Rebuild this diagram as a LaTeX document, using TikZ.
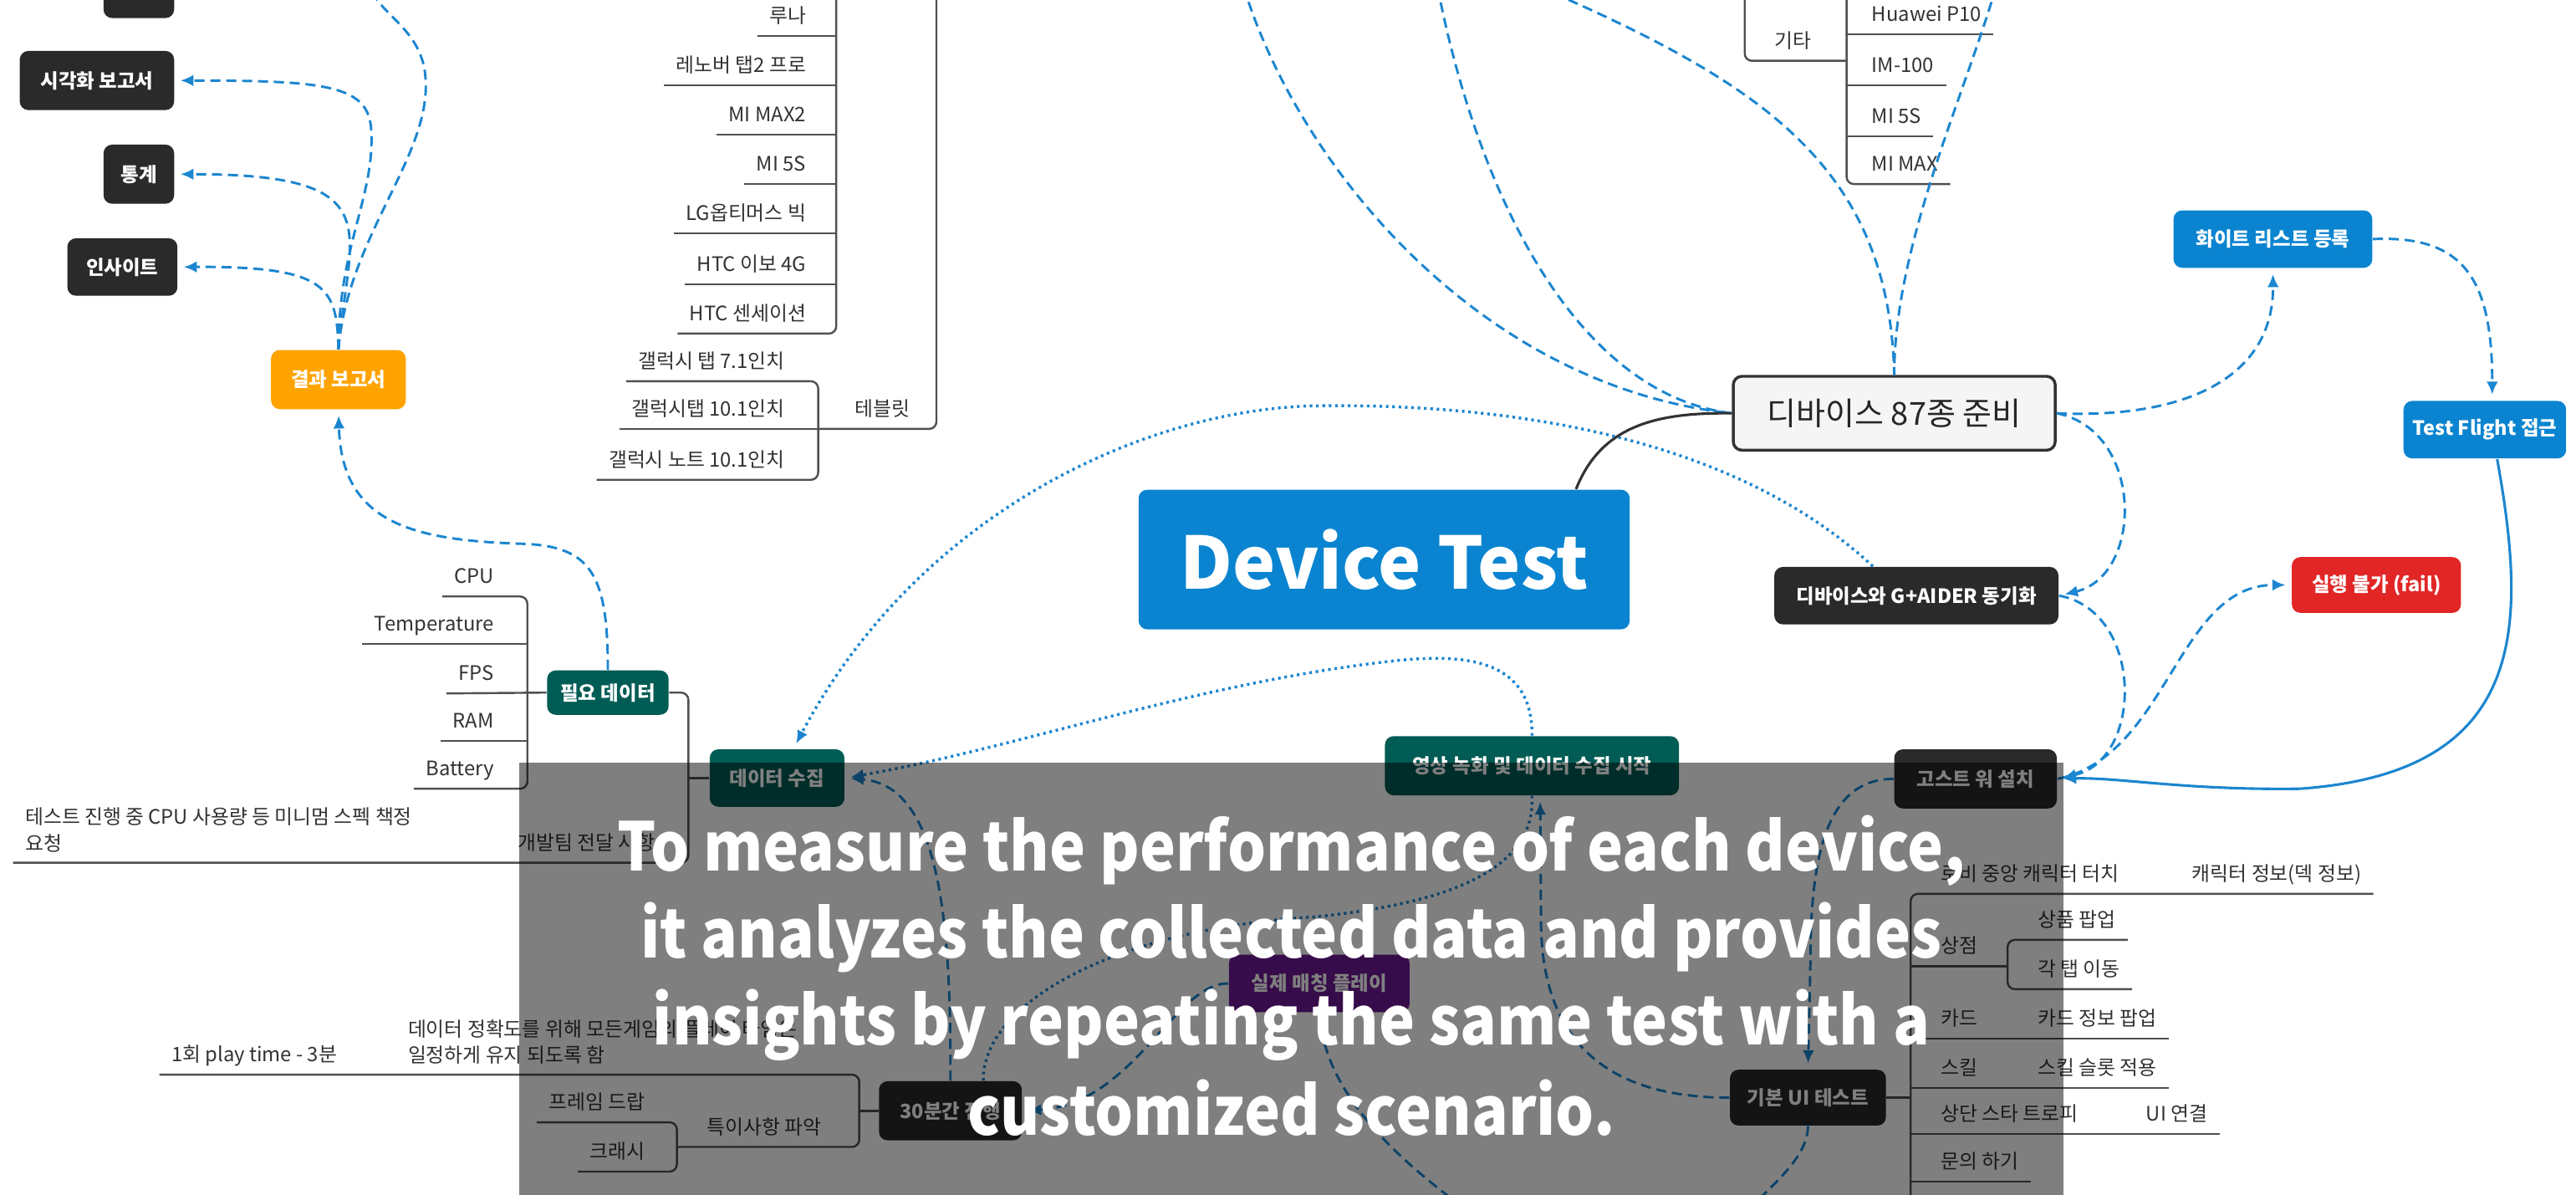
\documentclass[tikz,border=0pt]{standalone}
\usepackage{fontspec}
\setmainfont{Noto Sans CJK KR}
\usepackage{xcolor}
\usepackage{tikz}
\usetikzlibrary{arrows.meta}
\definecolor{devblue}{RGB}{10,132,208}
\definecolor{linkblue}{RGB}{28,134,208}
\definecolor{darkbox}{RGB}{42,42,42}
\definecolor{tealbox}{RGB}{0,92,84}
\definecolor{orangebox}{RGB}{255,163,0}
\definecolor{redbox}{RGB}{226,38,38}
\definecolor{purplebox}{RGB}{112,26,150}
\definecolor{prepfill}{RGB}{245,245,245}
\definecolor{darkline}{RGB}{50,50,50}
\definecolor{treegray}{RGB}{80,80,80}
\definecolor{leafgray}{RGB}{50,50,50}

\begin{document}
\begin{tikzpicture}[x=0.02cm,y=-0.02cm,>={Latex[length=4.5pt,width=4pt]},
	box/.style={rounded corners=3pt,text=white,inner sep=0pt,font=\fontsize{6.8}{8}\selectfont\bfseries,minimum height=0.72cm},
	leaf/.style={inner xsep=4pt,inner ysep=0pt,text depth=4.3pt,text=leafgray,font=\fontsize{6.9}{9}\selectfont},
	note/.style={inner xsep=4pt,inner ysep=3.5pt,align=left,text=leafgray,font=\fontsize{6.9}{9}\selectfont},
	tree/.style={draw=treegray,line width=0.7pt,rounded corners=2.5pt},
	rel/.style={draw=linkblue,line width=0.85pt,dash pattern=on 3.5pt off 2pt},
	reldot/.style={draw=linkblue,line width=1pt,dash pattern=on 0.9pt off 1.3pt},
	overtext/.style={text=white,inner sep=0pt,anchor=base,font=\fontsize{23.2}{30}\selectfont\bfseries}]
	\useasboundingbox (0,0) rectangle (1568,727);

	\node[box,fill=devblue,minimum width=5.98cm,minimum height=1.7cm,font=\fontsize{25}{30}\selectfont\bfseries] (main) at (842.5,340.5) {Device Test};
	\node[box,fill=prepfill,draw=darkline,line width=1pt,text=black!85,minimum width=3.92cm,minimum height=0.9cm,font=\fontsize{11}{12}\selectfont] (prep) at (1153,251.5) {디바이스 87종 준비};

		\node[box,fill=darkbox,minimum width=0.86cm] (topbox) at (84.5,-7) {};
		\node[box,fill=darkbox,minimum width=1.88cm] (vis) at (59,49) {시각화 보고서};
		\node[box,fill=darkbox,minimum width=0.86cm] (stat) at (84.5,106) {통계};
		\node[box,fill=darkbox,minimum width=1.34cm,minimum height=0.7cm] (insight) at (74.5,162.5) {인사이트};
		\node[box,fill=orangebox,minimum width=1.64cm] (result) at (206,231) {결과 보고서};
		\node[box,fill=tealbox,minimum width=1.48cm,minimum height=0.54cm] (need) at (370,421.5) {필요 데이터};
		\node[box,fill=tealbox,minimum width=1.64cm,minimum height=0.7cm] (collect) at (473,473.5) {데이터 수집};
		\node[box,fill=darkbox,minimum width=1.74cm] (prog) at (578.5,676) {30분간 진행};
		\node[box,fill=purplebox,minimum width=2.2cm,minimum height=0.7cm] (match) at (803,598.5) {실제 매칭 플레이};
		\node[box,fill=tealbox,minimum width=3.58cm] (rec) at (932.5,466) {영상 녹화 및 데이터 수집 시작};
		\node[box,fill=darkbox,minimum width=1.9cm,minimum height=0.68cm] (ui) at (1100.5,668) {기본 UI 테스트};
		\node[box,fill=darkbox,minimum width=1.98cm] (ghost) at (1202.5,474) {고스트 워 설치};
		\node[box,fill=darkbox,minimum width=3.46cm,minimum height=0.7cm] (sync) at (1166.5,362.5) {디바이스와 G+AIDER 동기화};
		\node[box,fill=redbox,minimum width=2.06cm,minimum height=0.68cm] (fail) at (1446.5,356) {실행 불가 (fail)};
		\node[box,fill=devblue,minimum width=2.42cm,minimum height=0.7cm] (white) at (1383.5,145.5) {화이트 리스트 등록};
		\node[box,fill=devblue,minimum width=1.98cm,minimum height=0.7cm] (flight) at (1512.5,261.5) {Test Flight 접근};

	\node[leaf,anchor=south east] (cpu) at (308,363) {CPU};
	\node[leaf,anchor=south east] (temp) at (308,392) {Temperature};
	\node[leaf,anchor=south east] (fps) at (308,422) {FPS};
	\node[leaf,anchor=south east] (ram) at (308,451) {RAM};
	\node[leaf,anchor=south east] (batt) at (308,480) {Battery};
	\draw[tree] (cpu.south west) -- (321,363) -- (321,480) -- (batt.south west);
	\draw[tree] (temp.south west) -- (321,392);
	\draw[tree] (fps.south west) -- (need.west);
	\draw[tree] (ram.south west) -- (321,451);

	\node[leaf,anchor=south east] (dev) at (406,525) {개발팀 전달 사항};
	\node[note,anchor=south west] (req) at (8,525) {테스트 진행 중 CPU 사용량 등 미니멈 스펙 책정\\요청};
	\draw[tree] (req.south west) -- (419,525) -- (419,421.5) -- (need.east);
	\draw[tree] (collect.west) -- (419,473.5);

	\node[note,anchor=south west] (acc) at (241,654) {데이터 정확도를 위해 모든게임의 플레이 타임은\\일정하게 유지 되도록 함};
	\node[leaf,anchor=south west] (play) at (97,654) {1회 play time - 3분};
	\node[leaf,anchor=south west] (issue) at (423,698) {특이사항 파악};
	\node[leaf,anchor=south east] (frame) at (400,683) {프레임 드랍};
	\node[leaf,anchor=south east] (crash) at (400,713) {크래시};
	\draw[tree] (play.south west) -- (523,654) -- (523,698) -- (412,698);
	\draw[tree] (frame.south west) -- (412,683) -- (412,713) -- (crash.south west);
	\draw[tree] (prog.west) -- (523,676);

	\node[leaf,anchor=south east] (luna) at (498,22) {루나};
	\node[leaf,anchor=south east] (lenovo) at (498,52) {레노버 탭2 프로};
	\node[leaf,anchor=south east] (mimaxtwo) at (498,82) {MI MAX2};
	\node[leaf,anchor=south east] (mifive) at (498,112) {MI 5S};
	\node[leaf,anchor=south east] (lgbig) at (498,142) {LG옵티머스 빅};
	\node[leaf,anchor=south east] (htcevo) at (498,173) {HTC 이보 4G};
	\node[leaf,anchor=south east] (htcsen) at (498,203) {HTC 센세이션};
	\draw[tree] (509,-10) -- (509,203) -- (htcsen.south west);
	\draw[tree] (luna.south west) -- (509,22);
	\draw[tree] (lenovo.south west) -- (509,52);
	\draw[tree] (mimaxtwo.south west) -- (509,82);
	\draw[tree] (mifive.south west) -- (509,112);
	\draw[tree] (lgbig.south west) -- (509,142);
	\draw[tree] (htcevo.south west) -- (509,173);

	\node[leaf,anchor=south west] (tablet) at (513,261) {테블릿};
	\node[leaf,anchor=south east] (tabseven) at (485,232) {갤럭시 탭 7.1인치};
	\node[leaf,anchor=south east] (tabten) at (485,261) {갤럭시탭 10.1인치};
	\node[leaf,anchor=south east] (noteten) at (485,292) {갤럭시 노트 10.1인치};
	\draw[tree] (570,-10) -- (570,261) -- (498,261);
	\draw[tree] (tabseven.south west) -- (498,232) -- (498,292) -- (noteten.south west);
	\draw[tree] (tabten.south west) -- (498,261);

	\node[leaf,anchor=south west] (etc) at (1073,37) {기타};
	\node[leaf,anchor=south west] (huawei) at (1132,21) {Huawei P10};
	\node[leaf,anchor=south west] (imhundred) at (1132,52) {IM-100};
	\node[leaf,anchor=south west] (mifivetwo) at (1132,83) {MI 5S};
	\node[leaf,anchor=south west] (mimax) at (1132,112) {MI MAX};
	\draw[tree] (1062,-10) -- (1062,37) -- (1124,37);
	\draw[tree] (1124,-10) -- (1124,112) -- (mimax.south east);
	\draw[tree] (1124,21) -- (huawei.south east);
	\draw[tree] (1124,52) -- (imhundred.south east);
	\draw[tree] (1124,83) -- (mifivetwo.south east);

	\node[leaf,anchor=south west] (robi) at (1174,544) {로비 중앙 캐릭터 터치};
	\node[leaf,anchor=south west] (charinfo) at (1327,544) {캐릭터 정보(덱 정보)};
	\node[leaf,anchor=south west] (shop) at (1174,588) {상점};
	\node[leaf,anchor=south west] (goods) at (1233,572) {상품 팝업};
	\node[leaf,anchor=south west] (tabs) at (1233,602) {각 탭 이동};
	\node[leaf,anchor=south west] (card) at (1174,632) {카드};
	\node[leaf,anchor=south west] (cardinfo) at (1233,632) {카드 정보 팝업};
	\node[leaf,anchor=south west] (skill) at (1174,662) {스킬};
	\node[leaf,anchor=south west] (slot) at (1233,662) {스킬 슬롯 적용};
	\node[leaf,anchor=south west] (star) at (1174,690) {상단 스타 트로피};
	\node[leaf,anchor=south west] (uilink) at (1299,690) {UI 연결};
	\node[leaf,anchor=south west] (ask) at (1174,719) {문의 하기};
	\draw[tree] (ui.east) -- (1163,668);
	\draw[tree] (charinfo.south east) -- (1163,544) -- (1163,745);
	\draw[tree] (1163,588) -- (1222,588);
	\draw[tree] (goods.south east) -- (1222,572) -- (1222,602) -- (tabs.south east);
	\draw[tree] (1163,632) -- (cardinfo.south east);
	\draw[tree] (1163,662) -- (slot.south east);
	\draw[tree] (1163,690) -- (uilink.south east);
	\draw[tree] (1163,719) -- (ask.south east);

	\coordinate (resulttop) at (226,-8);
	\draw[rel,->,shorten >=2pt] (result.north) .. controls (206,150) and (228,120) .. (226,80) .. controls (225,52) and (200,49) .. (vis.east);
	\draw[rel,->,shorten >=2pt] (result.north) .. controls (212,140) and (240,106) .. (stat.east);
	\draw[rel,->,shorten >=2pt] (result.north) .. controls (205,175) and (200,162) .. (insight.east);
	\draw[rel] (result.north) .. controls (212,140) and (268,90) .. (258,40) .. controls (252,15) and (230,8) .. (resulttop);
	\draw[rel,->,shorten >=2pt] (need.north) .. controls (370,350) and (360,333) .. (320,331) .. controls (250,329) and (208,318) .. (result.south);

	\draw[reldot,->,shorten >=2pt] ([xshift=-0.53cm]sync.north) .. controls (1060,270) and (930,245) .. (800,247) .. controls (700,249) and (560,310) .. ([xshift=0.2cm]collect.north);
	\draw[reldot,->,shorten >=2pt] (rec.north) .. controls (933,400) and (890,398) .. (850,402) .. controls (730,415) and (620,455) .. (collect.east);
	\draw[rel,->,shorten >=2pt] (prog.north) .. controls (579,560) and (572,478) .. (collect.east);
	\draw[rel,->,shorten >=2pt] (match.west) .. controls (715,598) and (690,672) .. (prog.east);
	\draw[reldot] ([xshift=0.4cm]prog.north) .. controls (598,610) and (680,565) .. (800,558) .. controls (880,550) and (935,530) .. (rec.south);
	\draw[rel,->,shorten >=2pt] (ui.west) .. controls (985,668) and (938,640) .. (938,560) -- ([xshift=0.1cm]rec.south);
	\coordinate (matchend) at (905,745);
	\coordinate (uiend) at (1055,745);
	\draw[rel] (match.south) .. controls (806,660) and (840,700) .. (matchend);
	\draw[rel] (ui.south) .. controls (1100,705) and (1080,720) .. (uiend);
	\draw[rel,->,shorten >=2pt] (ghost.west) .. controls (1112,474) and (1102,520) .. (1102,585) -- (ui.north);

	\draw[rel,->,shorten >=2pt] (prep.east) .. controls (1330,255) and (1384,230) .. (white.south);
	\draw[rel,->,shorten >=2pt] (white.east) .. controls (1500,143) and (1517,170) .. ([xshift=0.09cm]flight.north);
	\draw[->,draw=linkblue,line width=0.9pt,shorten >=2pt] ([xshift=0.15cm]flight.south) .. controls (1538,380) and (1540,470) .. (1400,480) .. controls (1330,481) and (1290,473) .. (ghost.east);
	\draw[rel,->,shorten >=2pt] (prep.east) .. controls (1305,262) and (1305,350) .. (sync.east);
	\draw[rel,->,shorten >=2pt] (sync.east) .. controls (1305,372) and (1305,462) .. (ghost.east);
	\draw[rel,->,shorten >=2pt] (ghost.east) .. controls (1320,460) and (1325,356) .. (fail.west);

	\coordinate (devtopa) at (757,-8);
	\coordinate (devtopb) at (875,-8);
	\coordinate (devtopc) at (937,-8);
	\coordinate (devtopd) at (1215,-8);
	\draw[rel] (devtopa) .. controls (790,100) and (900,235) .. (prep.west);
	\draw[rel] (devtopb) .. controls (900,120) and (960,240) .. (prep.west);
	\draw[rel] (devtopc) .. controls (1070,50) and (1150,100) .. (prep.north);
	\draw[rel] (devtopd) .. controls (1195,60) and (1153,150) .. (prep.north);
	\draw[draw=darkline,line width=0.9pt] ([xshift=-0.66cm]main.north east) .. controls (975,258) and (1010,251) .. (prep.west);

	\fill[black,fill opacity=0.5] (316,464) rectangle (1256,745);
	\node[overtext] (capa) at (786,530) {\scalebox{0.905}[1]{To measure the performance of each device,}};
	\node[overtext] (capb) at (786,583) {\scalebox{0.905}[1]{it analyzes the collected data and provides}};
	\node[overtext] (capc) at (786,636) {\scalebox{0.905}[1]{insights by repeating the same test with a}};
	\node[overtext] (capd) at (786,691) {\scalebox{0.905}[1]{customized scenario.}};
\end{tikzpicture}
\end{document}
